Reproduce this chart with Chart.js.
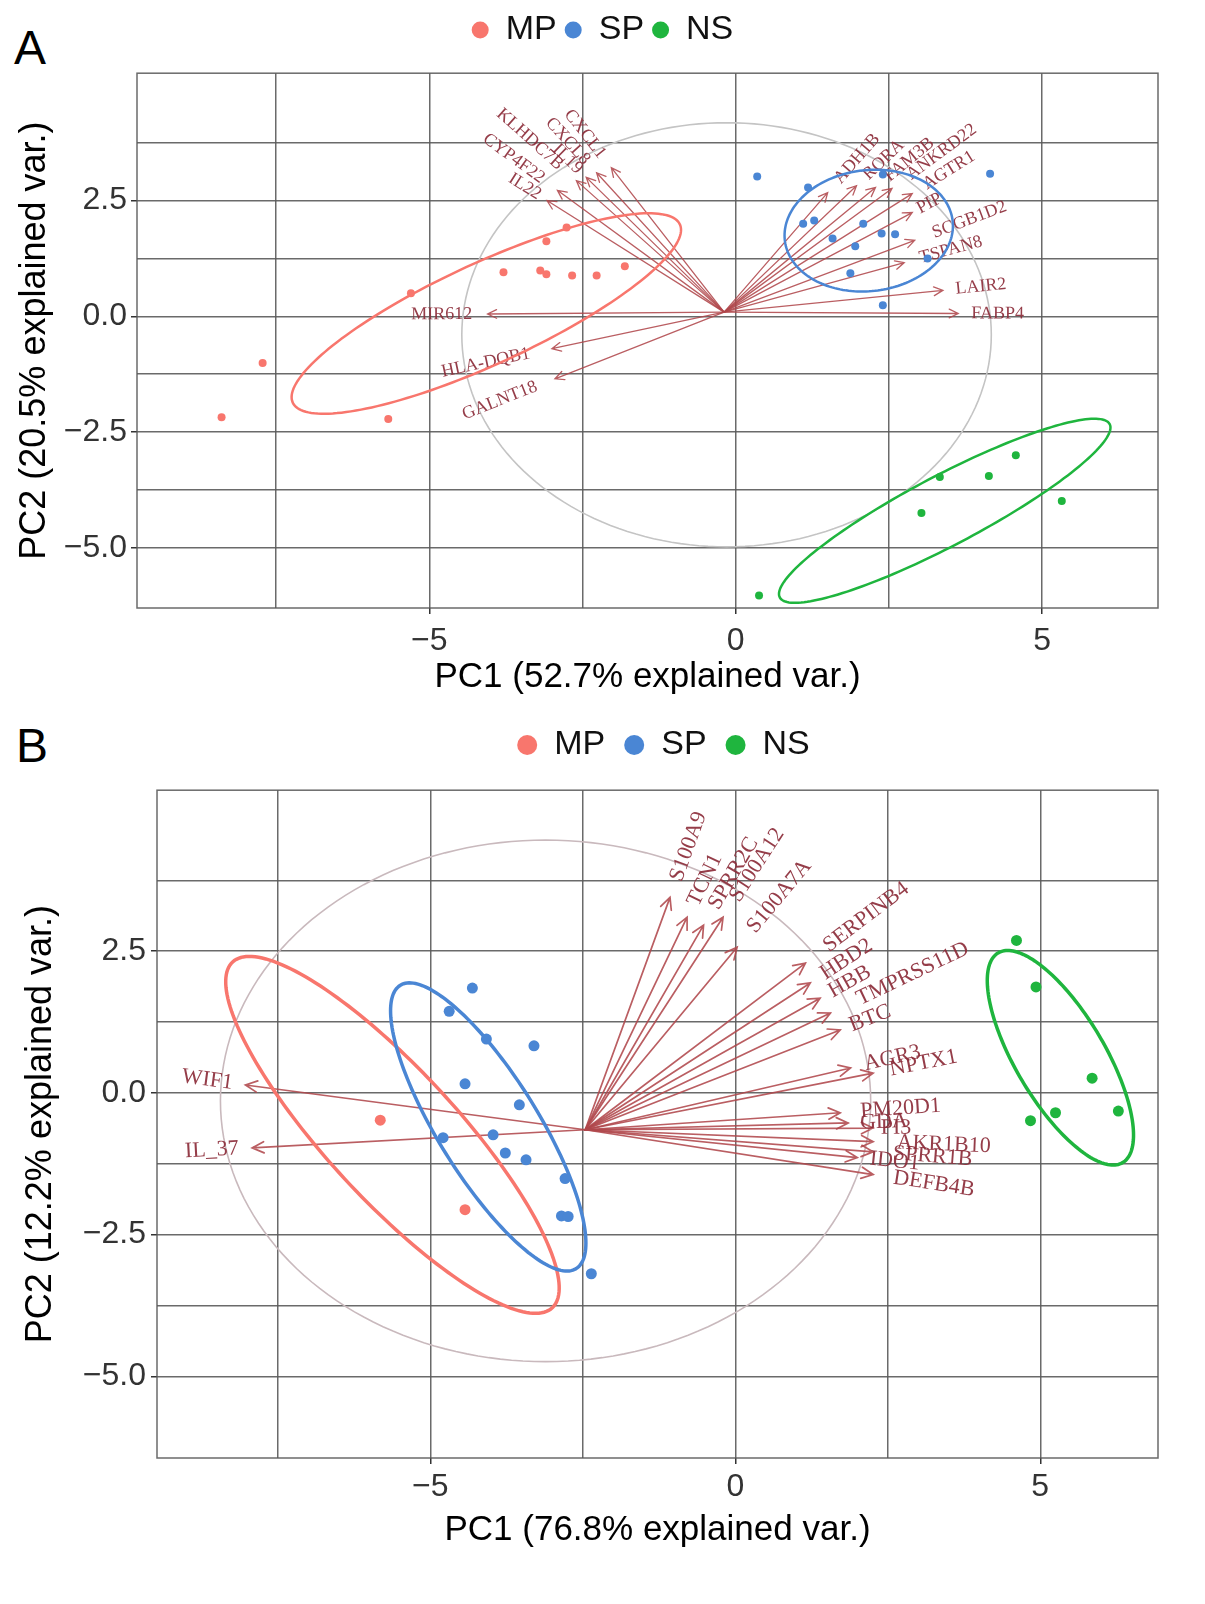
<!DOCTYPE html>
<html>
<head>
<meta charset="utf-8">
<script src="https://cdn.jsdelivr.net/npm/chart.js@4.4.1/dist/chart.umd.min.js"></script>
<style>
html, body { margin: 0; padding: 0; background: #fff; overflow: hidden; width: 1205px; height: 1604px; }
canvas { position: absolute; left: 0; }
#pcaA { top: 0; }
#pcaB { top: 700px; }
.tag { position: absolute; font-family: "Liberation Sans", Arial, sans-serif; font-size: 48px; line-height: 48px; color: #000; }
</style>
</head>
<body>
<div class="tag" style="left:14px;top:24px">A</div>
<div class="tag" style="left:16px;top:722px">B</div>
<canvas id="pcaA" width="1205" height="700"></canvas>
<canvas id="pcaB" width="1327" height="904"></canvas>
<script>
const groups = ['MP', 'SP', 'NS'];
const groupColors = ['#F8766D', '#4A86D4', '#1FB53E'];

// ---- panel A ----
const mpA = [[-8.39, -2.18], [-7.72, -1.01], [-5.67, -2.22], [-5.30, 0.50], [-3.79, 0.95], [-3.09, 1.62],
  [-2.76, 1.92], [-3.19, 0.99], [-3.09, 0.91], [-2.67, 0.88], [-2.27, 0.88], [-1.81, 1.08]];
const spA = [[0.35, 3.02], [1.18, 2.78], [1.10, 2.00], [1.28, 2.07], [1.58, 1.68], [2.08, 2.00], [1.95, 1.51],
  [2.38, 1.79], [2.60, 1.77], [1.87, 0.93], [3.13, 1.25], [4.15, 3.08], [2.40, 0.24], [2.40, 3.06]];
const nsA = [[3.33, -3.47], [4.13, -3.45], [4.57, -3.00], [3.03, -4.25], [5.32, -3.99], [0.38, -6.03]];
const xRangeA = [-9.77, 6.89];
const yRangeA = [-6.3, 5.25];
const varOriginA = [-0.19, 0.09];
const varNamesA = ['ADH1B', 'RORA', 'FAM3B', 'ANKRD22', 'AGTR1', 'PIP', 'SCGB1D2', 'TSPAN8', 'LAIR2', 'FABP4',
  'CXCL1', 'CXCL8', 'IL19', 'KLHDC7B', 'CYP4F22', 'IL22', 'MIR612', 'HLA-DQB1', 'GALNT18'];
const varEndA = [[1.50, 2.67], [1.97, 2.82], [2.28, 2.78], [2.55, 2.76], [2.88, 2.65], [2.88, 2.24], [2.92, 1.64],
  [2.75, 1.16], [3.38, 0.56], [3.63, 0.06], [-2.03, 3.21], [-2.27, 3.10], [-2.44, 3.00], [-2.60, 2.93],
  [-2.91, 2.72], [-3.08, 2.50], [-4.05, 0.05], [-3.00, -0.70], [-2.95, -1.35]];
const ellCentreA = [[-4.07, 0.06], [2.17, 1.85], [3.41, -4.20]];
const ellAxisUA = [[3.16, 1.92], [1.37, 0.20], [2.69, 1.875]];
const ellAxisVA = [[-0.33, 1.00], [-0.10, 1.30], [-0.28, 0.66]];
const circleA = [-0.15, -0.40, 4.32, 4.58];

// ---- panel B ----
const mpB = [[-5.82, -0.48], [-4.43, -2.06]];
const spB = [[-4.31, 1.85], [-4.69, 1.44], [-4.08, 0.95], [-3.30, 0.83], [-4.43, 0.16], [-3.54, -0.21], [-4.79, -0.79],
  [-3.97, -0.74], [-3.77, -1.06], [-3.43, -1.18], [-2.79, -1.51], [-2.85, -2.17], [-2.74, -2.18], [-2.36, -3.19]];
const nsB = [[4.61, 2.69], [4.93, 1.87], [5.85, 0.26], [4.84, -0.49], [5.25, -0.35], [6.28, -0.32]];
const xRangeB = [-9.48, 6.93];
const yRangeB = [-6.44, 5.34];
const varOriginB = [-2.46, -0.65];
const varNamesB = ['S100A9', 'TCN1', 'SPRR2C', 'S100A12', 'S100A7A', 'SERPINB4', 'HBD2', 'HBB', 'TMPRSS11D', 'BTC',
  'AGR3', 'NPTX1', 'PM20D1', 'GDA', 'PI3', 'AKR1B10', 'SPRR1B', 'IDO1', 'DEFB4B', 'WIF1', 'IL_37'];
const varEndB = [[-1.07, 3.45], [-0.79, 3.10], [-0.52, 2.96], [-0.20, 3.10], [0.03, 2.57], [1.15, 2.29], [1.23, 1.94],
  [1.39, 1.67], [1.56, 1.41], [1.72, 1.11], [1.89, 0.44], [2.26, 0.35], [1.72, -0.35], [1.85, -0.53], [2.26, -0.62],
  [2.26, -0.86], [2.26, -1.04], [2.00, -1.14], [2.26, -1.44], [-8.03, 0.14], [-7.92, -0.97]];
const ellCentreB = [[-5.62, -0.74], [-4.05, -0.60], [5.33, 0.62]];
const ellAxisUB = [[2.62, -3.05], [1.44, -2.50], [1.02, -1.85]];
const ellAxisVB = [[0.78, 0.78], [0.70, 0.46], [0.63, 0.40]];
const circleB = [-3.11, -0.14, 5.33, 4.60];

const SANS = "'Liberation Sans', Arial, sans-serif";

function traceEllipse(ctx, px, py, c, u, v) {
  ctx.beginPath();
  for (let k = 0; k <= 180; k++) {
    const t = k / 180 * Math.PI * 2;
    const X = px(c[0] + u[0] * Math.cos(t) + v[0] * Math.sin(t));
    const Y = py(c[1] + u[1] * Math.cos(t) + v[1] * Math.sin(t));
    if (k === 0) ctx.moveTo(X, Y); else ctx.lineTo(X, Y);
  }
  ctx.closePath();
}

// circle, loading arrows, labels and group ellipses
const biplot = {
  id: 'biplot',
  beforeDatasetsDraw(chart, args, o) {
    const {ctx, chartArea: a, scales: {x, y}} = chart;
    const px = v => x.getPixelForValue(v);
    const py = v => y.getPixelForValue(v);
    ctx.save();
    ctx.beginPath();
    ctx.rect(a.left, a.top, a.width, a.height);
    ctx.clip();

    traceEllipse(ctx, px, py, [o.circle[0], o.circle[1]], [o.circle[2], 0], [0, o.circle[3]]);
    ctx.strokeStyle = o.circleColor;
    ctx.lineWidth = o.circleWidth;
    ctx.stroke();

    const ox = px(o.origin[0]), oy = py(o.origin[1]);
    ctx.strokeStyle = o.arrowColor;
    ctx.lineWidth = o.arrowWidth;
    ctx.lineCap = 'round';
    o.ends.forEach(e => {
      const ex = px(e[0]), ey = py(e[1]);
      const ang = Math.atan2(ey - oy, ex - ox);
      const h = o.head, s = Math.PI / 7;
      ctx.beginPath();
      ctx.moveTo(ox, oy);
      ctx.lineTo(ex, ey);
      ctx.moveTo(ex - h * Math.cos(ang - s), ey - h * Math.sin(ang - s));
      ctx.lineTo(ex, ey);
      ctx.lineTo(ex - h * Math.cos(ang + s), ey - h * Math.sin(ang + s));
      ctx.stroke();
    });

    ctx.font = o.labelFont;
    ctx.fillStyle = o.labelColor;
    ctx.textBaseline = 'middle';
    o.names.forEach((name, i) => {
      const ex = px(o.ends[i][0]), ey = py(o.ends[i][1]);
      const ang = Math.atan2(ey - oy, ex - ox);
      const right = ex >= ox;
      const w = ctx.measureText(name).width;
      ctx.save();
      ctx.translate(ex, ey);
      ctx.rotate(right ? ang : ang + Math.PI);
      ctx.textAlign = right ? 'left' : 'right';
      ctx.fillText(name, right ? 0.25 * w : -0.25 * w, 0);
      ctx.restore();
    });

    o.centres.forEach((c, i) => {
      traceEllipse(ctx, px, py, c, o.axisU[i], o.axisV[i]);
      ctx.strokeStyle = groupColors[i];
      ctx.lineWidth = o.ellipseWidth;
      ctx.stroke();
    });
    ctx.restore();
  },
  afterDraw(chart, args, o) {
    const {ctx, chartArea: a} = chart;
    ctx.save();
    ctx.strokeStyle = o.gridColor;
    ctx.lineWidth = 1.5;
    ctx.strokeRect(a.left, a.top, a.width, a.height);
    ctx.restore();
  }
};

function onStep(v, step) {
  return Math.abs(v / step - Math.round(v / step)) < 1e-6;
}
function minus(s) { return s.replace('-', '\u2212'); }

function makeBiplot(id, p) {
  const gridColor = 'rgba(90,90,90,0.9)';
  return new Chart(document.getElementById(id), {
    type: 'scatter',
    data: {
      datasets: groups.map((g, i) => ({
        label: g,
        data: p.points[i].map(q => ({x: q[0], y: q[1]})),
        backgroundColor: groupColors[i],
        borderWidth: 0,
        pointStyle: 'circle',
        pointRadius: p.pointRadius,
        pointHoverRadius: p.pointRadius
      }))
    },
    options: {
      responsive: false,
      animation: false,
      layout: {padding: {top: p.padTop, left: 0, right: 0, bottom: 0}},
      scales: {
        x: {
          type: 'linear',
          min: p.xRange[0], max: p.xRange[1],
          afterFit: s => { s.height = p.xAxisHeight; },
          grid: {color: gridColor, lineWidth: 1.5, tickLength: 6,
            tickColor: c => onStep(c.tick.value, 5) ? '#333' : 'rgba(0,0,0,0)'},
          border: {display: false},
          ticks: {stepSize: 2.5, includeBounds: false, autoSkip: false, maxRotation: 0, padding: p.xTickPad,
            color: '#333', font: {family: SANS, size: 32},
            callback: v => onStep(v, 5) ? minus(String(v)) : ''},
          title: {display: true, text: p.xTitle, color: '#000', font: {family: SANS, size: 35},
            padding: {top: 0, bottom: p.xTitlePad}}
        },
        y: {
          type: 'linear',
          position: 'left',
          min: p.yRange[0], max: p.yRange[1],
          afterFit: s => { s.width = p.yAxisWidth; },
          afterBuildTicks: s => { s.ticks = s.ticks.filter(t => t.value >= -5.0001 && t.value < 4.999); },
          grid: {color: gridColor, lineWidth: 1.5, tickLength: 6,
            tickColor: c => onStep(c.tick.value, 2.5) ? '#333' : 'rgba(0,0,0,0)'},
          border: {display: false},
          ticks: {stepSize: 1.25, includeBounds: false, autoSkip: false, padding: p.yTickPad,
            color: '#333', font: {family: SANS, size: 32},
            callback: v => onStep(v, 2.5) ? minus(v.toFixed(1)) : ''},
          title: {display: true, text: p.yTitle, color: '#000', font: {family: SANS, size: 36},
            padding: {top: p.yTitlePad, bottom: 0}}
        },
        yRight: {
          type: 'linear',
          position: 'right',
          display: true,
          afterFit: s => { s.width = p.rightSpace; },
          grid: {display: false},
          border: {display: false},
          ticks: {display: false}
        }
      },
      plugins: {
        legend: {
          position: 'top',
          labels: {usePointStyle: true, pointStyleWidth: p.dot, boxHeight: p.dot * 0.7, padding: p.legendPad,
            color: '#111', font: {family: SANS, size: 34}}
        },
        subtitle: {display: true, text: '', weight: 100, font: {size: 1}, padding: {top: 0, bottom: p.legendGap}},
        tooltip: {enabled: false},
        biplot: {
          origin: p.origin, names: p.names, ends: p.ends,
          centres: p.centres, axisU: p.axisU, axisV: p.axisV, circle: p.circle,
          circleColor: p.circleColor, circleWidth: 1.6,
          arrowColor: 'rgba(176,72,76,0.88)', arrowWidth: p.arrowWidth, head: p.head,
          labelColor: 'rgba(140,45,58,0.92)', labelFont: p.labelFont,
          ellipseWidth: p.ellipseWidth, gridColor: gridColor
        }
      }
    },
    plugins: [biplot]
  });
}

makeBiplot('pcaA', {
  points: [mpA, spA, nsA], xRange: xRangeA, yRange: yRangeA,
  origin: varOriginA, names: varNamesA, ends: varEndA,
  centres: ellCentreA, axisU: ellAxisUA, axisV: ellAxisVA, circle: circleA,
  xTitle: 'PC1 (52.7% explained var.)', yTitle: 'PC2 (20.5% explained var.)',
  padTop: 5, legendPad: 8, legendGap: 15, dot: 17,
  yAxisWidth: 137, xAxisHeight: 92, rightSpace: 47,
  xTickPad: 8, yTickPad: 4, xTitlePad: 2, yTitlePad: 13,
  pointRadius: 4, arrowWidth: 1.3, head: 10, ellipseWidth: 2.5,
  labelFont: "18px 'Liberation Serif', 'Times New Roman', serif", circleColor: '#C4C4C4'
});

makeBiplot('pcaB', {
  points: [mpB, spB, nsB], xRange: xRangeB, yRange: yRangeB,
  origin: varOriginB, names: varNamesB, ends: varEndB,
  centres: ellCentreB, axisU: ellAxisUB, axisV: ellAxisVB, circle: circleB,
  xTitle: 'PC1 (76.8% explained var.)', yTitle: 'PC2 (12.2% explained var.)',
  padTop: 9, legendPad: 19, legendGap: 17, dot: 20,
  yAxisWidth: 157, xAxisHeight: 146, rightSpace: 169,
  xTickPad: 4, yTickPad: 5, xTitlePad: 53, yTitlePad: 19,
  pointRadius: 5.5, arrowWidth: 1.7, head: 13, ellipseWidth: 3.5,
  labelFont: "22px 'Liberation Serif', 'Times New Roman', serif", circleColor: '#C9B9BD'
});
</script>
</body>
</html>
